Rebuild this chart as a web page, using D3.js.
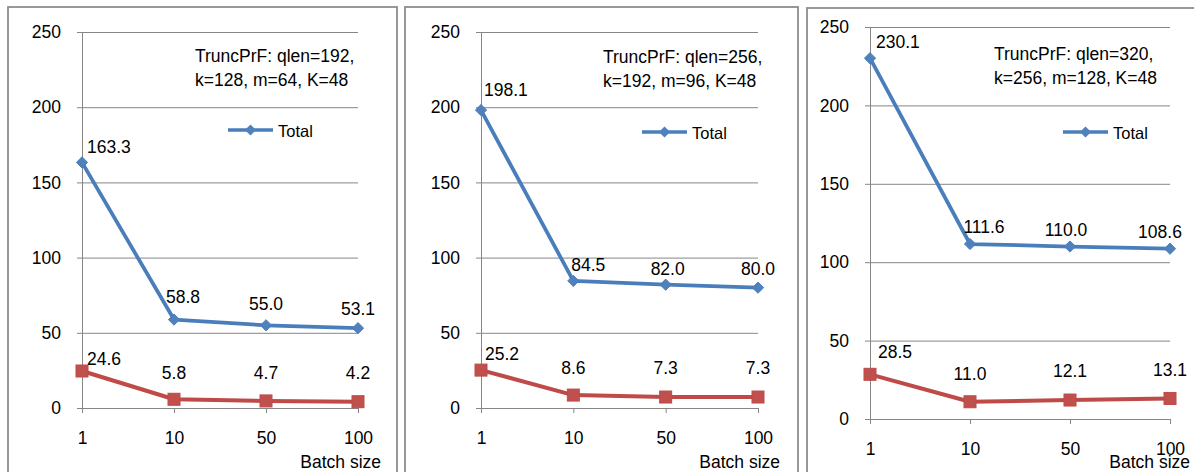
<!DOCTYPE html>
<html>
<head>
<meta charset="utf-8">
<script src="https://cdn.jsdelivr.net/npm/d3@7"></script>
<style>
  body { margin: 0; background: #fff; }
  svg { display: block; font-family: "Liberation Sans", Arial, sans-serif; }
  text { fill: #000; }
</style>
</head>
<body>
<div id="chart"></div>
<script>
// data
const batches = ["1", "10", "50", "100"];
const yTicks = [0, 50, 100, 150, 200, 250];

const total1 = [163.3, 58.8, 55.0, 53.1];
const other1 = [24.6, 5.8, 4.7, 4.2];
const total2 = [198.1, 84.5, 82.0, 80.0];
const other2 = [25.2, 8.6, 7.3, 7.3];
const total3 = [230.1, 111.6, 110.0, 108.6];
const other3 = [28.5, 11.0, 12.1, 13.1];

const notes = [
  ["TruncPrF: qlen=192,", "k=128, m=64, K=48"],
  ["TruncPrF: qlen=256,", "k=192, m=96, K=48"],
  ["TruncPrF: qlen=320,", "k=256, m=128, K=48"]
];
const legendName = "Total";
const xTitle = "Batch size";

const width = 1194, height = 472;
const blue = "#4a7ebb", red = "#be4b48";

// layout of each panel (pixel boxes), label nudges as [dx, dy]
const panels = [
  { frame: [8, 7, 389], x0: 82, x1: 358, y0: 408, y1: 32, note: [195, 61.5], legend: [228, 130], xTitleEnd: 381,
    total: total1, other: other1, text: notes[0],
    tOff: [[5, -9], [9, -17], [0, -15], [0, -13]], oOff: [[5, -6], [0, -20], [0, -22], [0, -23]] },
  { frame: [405, 7, 393], x0: 481, x1: 758, y0: 408, y1: 32, note: [603, 63], legend: [642, 132], xTitleEnd: 780,
    total: total2, other: other2, text: notes[1],
    tOff: [[3, -14], [15, -10], [2, -10], [0, -13]], oOff: [[4, -10], [0, -21], [0, -23], [0, -23]] },
  { frame: [807, 8, 420], x0: 870, x1: 1170, y0: 419, y1: 27, note: [994, 60], legend: [1063, 132], xTitleEnd: 1190,
    total: total3, other: other3, text: notes[2],
    tOff: [[6, -10], [14, -11], [-4, -11], [-10, -11]], oOff: [[8, -16], [0, -22], [0, -23], [0, -22]] }
];

const svg = d3.select("#chart")
  .append("svg")
  .attr("width", width)
  .attr("height", height)
  .attr("viewBox", [0, 0, width, height]);

const fs = 17.5;

panels.forEach(p => {
  const g = svg.append("g");

  g.append("rect")
    .attr("x", p.frame[0]).attr("y", p.frame[1])
    .attr("width", p.frame[2]).attr("height", 500)
    .attr("fill", "#fff")
    .attr("stroke", "#8a8a8a")
    .attr("stroke-width", 1.75);

  let x = d3.scalePoint()
    .domain(batches)
    .range([p.x0, p.x1]);

  let y = d3.scaleLinear()
    .domain([0, 250])
    .range([p.y0, p.y1]);

  // y axis with grid lines
  const ya = g.append("g")
    .attr("transform", `translate(${p.x0},0)`)
    .call(d3.axisLeft(y)
      .tickValues(yTicks)
      .tickSize(-(p.x1 - p.x0))
      .tickSizeOuter(0)
      .tickPadding(21)
    );
  ya.selectAll(".tick line").attr("x1", -5).attr("stroke", "#868686");
  ya.select(".domain").attr("stroke", "#868686");
  ya.selectAll("text").attr("font-size", fs).attr("font-family", null);

  // x axis
  const xa = g.append("g")
    .attr("transform", `translate(0,${p.y0})`)
    .call(d3.axisBottom(x)
      .tickSizeInner(5)
      .tickSizeOuter(0)
      .tickPadding(18.5)
    );
  xa.selectAll("line").attr("stroke", "#868686");
  xa.select(".domain").attr("stroke", "#868686");
  xa.selectAll("text").attr("font-size", fs).attr("font-family", null);

  g.append("text")
    .attr("x", p.xTitleEnd)
    .attr("y", 468)
    .attr("text-anchor", "end")
    .attr("font-size", fs)
    .text(xTitle);

  let line = d3.line()
    .x((d, i) => x(batches[i]))
    .y(d => y(d));

  // red series
  g.append("path")
    .datum(p.other)
    .attr("fill", "none")
    .attr("stroke", red)
    .attr("stroke-width", 4)
    .attr("stroke-linejoin", "round")
    .attr("d", line);
  g.selectAll(".sq")
    .data(p.other)
    .join("rect")
    .attr("x", (d, i) => x(batches[i]) - 6)
    .attr("y", d => y(d) - 6)
    .attr("width", 12).attr("height", 12)
    .attr("fill", "#c0504d")
    .attr("stroke", red);

  // blue series
  g.append("path")
    .datum(p.total)
    .attr("fill", "none")
    .attr("stroke", blue)
    .attr("stroke-width", 3.75)
    .attr("stroke-linejoin", "round")
    .attr("d", line);
  const diamond = d3.symbol().type(d3.symbolDiamond2).size(80);
  g.selectAll(".dm")
    .data(p.total)
    .join("path")
    .attr("transform", (d, i) => `translate(${x(batches[i])},${y(d)})`)
    .attr("d", diamond)
    .attr("fill", "#4f81bd")
    .attr("stroke", blue);

  // data labels
  const labels = (vals, off) => g.selectAll(null)
    .data(vals)
    .join("text")
    .attr("x", (d, i) => x(batches[i]) + off[i][0])
    .attr("y", (d, i) => y(d) + off[i][1])
    .attr("text-anchor", (d, i) => i === 0 ? "start" : "middle")
    .attr("font-size", fs)
    .text(d => d.toFixed(1));
  labels(p.total, p.tOff);
  labels(p.other, p.oOff);

  // annotation
  g.append("text")
    .attr("font-size", fs)
    .selectAll("tspan")
    .data(p.text)
    .join("tspan")
    .attr("x", p.note[0])
    .attr("y", (d, i) => p.note[1] + i * 24)
    .text(d => d);

  // legend
  const lg = g.append("g").attr("transform", `translate(${p.legend[0]},${p.legend[1]})`);
  lg.append("line")
    .attr("x1", 0).attr("x2", 45)
    .attr("stroke", blue).attr("stroke-width", 3.5);
  lg.append("path")
    .attr("transform", "translate(22.5,0)")
    .attr("d", diamond)
    .attr("fill", "#4f81bd");
  lg.append("text")
    .attr("x", 50)
    .attr("y", 6.5)
    .attr("font-size", 16.5)
    .text(legendName);
});
</script>
</body>
</html>
